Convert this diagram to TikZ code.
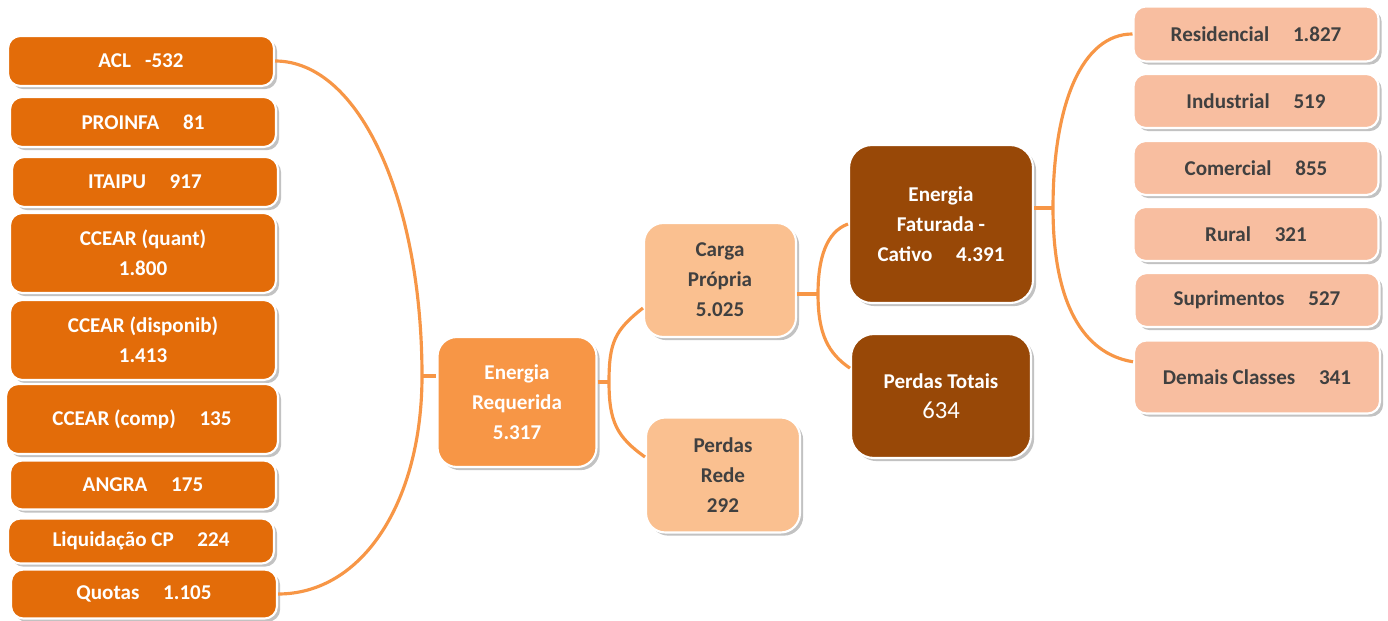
\documentclass[tikz,border=0pt]{standalone}
\usepackage{fontspec}
\setmainfont{Carlito}
\usepackage{xcolor}
\usetikzlibrary{shadows}

\definecolor{srcorange}{HTML}{E36C09}
\definecolor{reqorange}{HTML}{F79646}
\definecolor{midpeach}{HTML}{FAC090}
\definecolor{darkbrown}{HTML}{984807}
\definecolor{classpeach}{HTML}{F8BEA0}
\definecolor{darktext}{HTML}{404040}
\newcommand{\vgap}{\hspace{13.5pt}}

\begin{document}
\begin{tikzpicture}[x=0.02cm,y=-0.02cm,
    box/.style={draw=white,line width=1.2pt,rounded corners=7pt,align=center,inner sep=2pt,
        font=\fontsize{12}{17}\selectfont\bfseries,
        drop shadow={shadow xshift=1.8pt,shadow yshift=-1.8pt,opacity=0.4,fill=black!60}},
    src/.style={box,fill=srcorange,text=white,minimum width=5.32cm,minimum height=1cm},
    req/.style={box,fill=reqorange,text=white,rounded corners=11pt},
    mid/.style={box,fill=midpeach,text=darktext,rounded corners=11pt},
    dark/.style={box,fill=darkbrown,text=white,rounded corners=13pt},
    cls/.style={box,fill=classpeach,text=darktext,minimum width=4.9cm,minimum height=1.08cm},
    link/.style={draw=reqorange,line width=1.8pt}
]
\useasboundingbox (0,0) rectangle (1388,621);

%%% Left: sources of purchased energy
\node[src] (acl) at (141,61) {ACL\hspace{8pt}-532};
\node[src] (proinfa) at (143,122) {PROINFA\vgap 81};
\node[src] (itaipu) at (145,182) {ITAIPU\vgap 917};
\node[src,minimum height=1.6cm] (quant) at (143,253) {CCEAR (quant)\\1.800};
\node[src,minimum height=1.6cm] (disp) at (143,340) {CCEAR (disponib)\\1.413};
\node[src,minimum width=5.44cm,minimum height=1.4cm] (comp) at (142,419) {CCEAR (comp)\vgap 135};
\node[src,minimum height=0.98cm] (angra) at (143,485) {ANGRA\vgap 175};
\node[src,minimum height=0.9cm] (liq) at (141,541) {Liquidação CP\vgap 224};
\node[src,minimum height=0.98cm] (quotas) at (144,594) {Quotas\vgap 1.105};

%%% Middle: requirement and its split
\node[req,minimum width=3.18cm,minimum height=2.6cm] (er) at (517,402) {Energia\\Requerida\\5.317};
\node[mid,minimum width=3.04cm,minimum height=2.28cm] (cp) at (720,280) {Carga\\Própria\\5.025};
\node[mid,minimum width=3.08cm,minimum height=2.3cm] (pr) at (723,475) {Perdas\\Rede\\292};
\node[dark,minimum width=3.68cm,minimum height=3.16cm] (ef) at (941,224) {Energia\\Faturada -\\Cativo\vgap 4.391};
\node[dark,minimum width=3.6cm,minimum height=2.48cm] (pt) at (941,396) {Perdas Totais\\{\mdseries\fontsize{14}{17}\selectfont 634}};

%%% Right: consumer classes
\node[cls,minimum height=1.1cm] (res) at (1256,34) {Residencial\vgap 1.827};
\node[cls] (ind) at (1256,101) {Industrial\vgap 519};
\node[cls] (com) at (1256,168) {Comercial\vgap 855};
\node[cls] (rur) at (1256,234) {Rural\vgap 321};
\node[cls] (sup) at (1257,300) {Suprimentos\vgap 527};
\node[cls,minimum width=4.92cm,minimum height=1.46cm] (dem) at (1257,377) {Demais Classes\vgap 341};

% junction points of the brackets
\coordinate (lj) at (422,376);
\coordinate (mj) at (609,382);
\coordinate (cj) at (818,294);
\coordinate (rj) at (1053,208);

% brackets
\draw[link] (acl.east) .. controls +(85,0) and +(0,-175) .. (lj)
    .. controls +(0,125) and +(85,0) .. (quotas.east);
\draw[link] (lj) -- (er.west |- lj);
\draw[link] (er.east |- mj) -- (mj);
\draw[link] (cp.200) .. controls +(-28,22) and +(0,-40) .. (mj)
    .. controls +(0,40) and +(-28,-20) .. (pr.167);
\draw[link] (cp.east |- cj) -- (cj);
\draw[link] (ef.west) .. controls +(-22,8) and +(0,-35) .. (cj)
    .. controls +(0,40) and +(-22,-15) .. (pt.163);
\draw[link] (ef.east |- rj) -- (rj);
\draw[link] (res.west) .. controls +(-50,0) and +(0,-105) .. (rj)
    .. controls +(0,95) and +(-50,-8) .. (dem.173);
\end{tikzpicture}
\end{document}
